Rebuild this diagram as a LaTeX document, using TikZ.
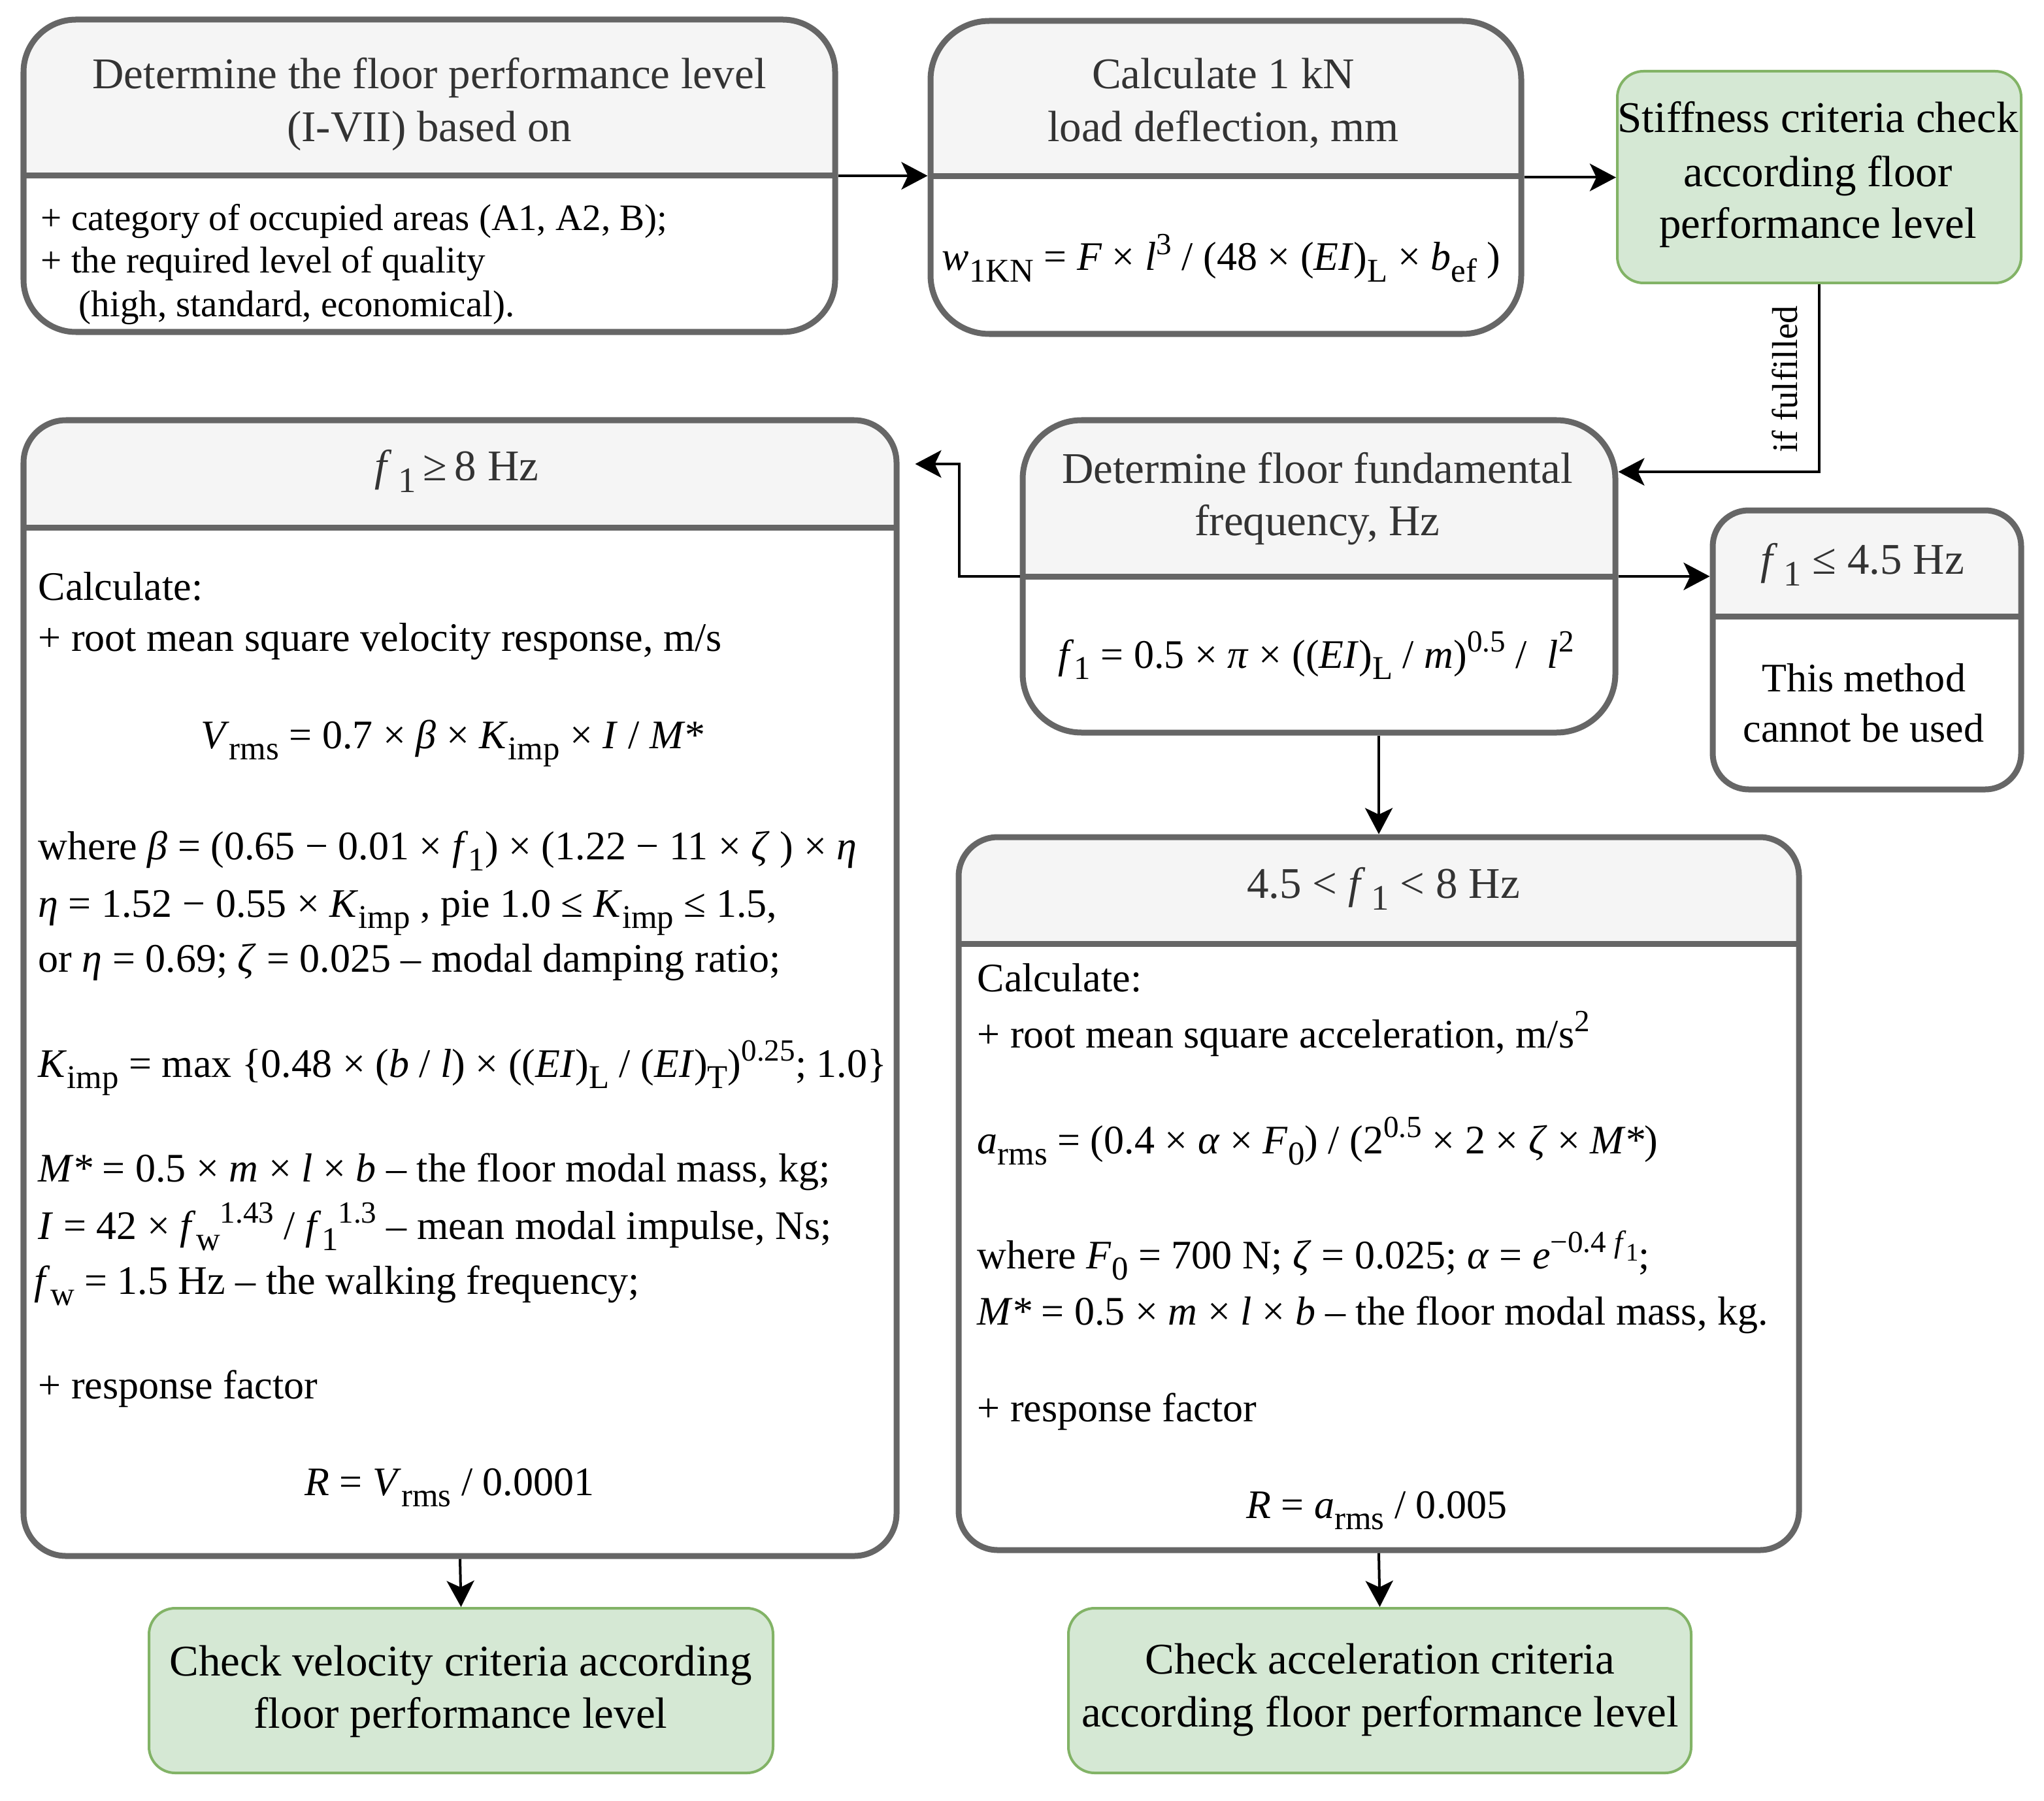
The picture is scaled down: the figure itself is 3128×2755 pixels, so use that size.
\documentclass[tikz,border=0pt]{standalone}
\usepackage{fontspec}
\setmainfont{Liberation Serif}
\usepackage{graphicx}
\usetikzlibrary{arrows.meta,calc}
\definecolor{bgray}{HTML}{666666}
\definecolor{hdrfill}{HTML}{F5F5F5}
\definecolor{htext}{HTML}{333333}
\definecolor{gfill}{HTML}{D5E8D4}
\definecolor{gline}{HTML}{82B366}
\newcommand\hdf{\fontsize{19.06pt}{23pt}\selectfont}
\newcommand\bdf{\fontsize{17.64pt}{21pt}\selectfont}
\newcommand\abf{\fontsize{16.22pt}{19pt}\selectfont}
\newcommand\lbf{\fontsize{15.65pt}{19pt}\selectfont}
\newcommand\im[1]{\textit{#1}}
\newcommand\lo[1]{\raisebox{-0.28em}{\scalebox{0.82}{#1}}}
\newcommand\hi[1]{\raisebox{0.40em}{\scalebox{0.76}{#1}}}
\tikzset{
 swimbox/.style={rectangle, fill=white, inner sep=0pt, outer sep=0.045cm},
 bord/.style={draw=bgray, line width=0.09cm},
 hdr/.style={fill=hdrfill},
 gbox/.style={rectangle, fill=gfill, draw=gline, line width=0.04cm, rounded corners=0.4cm, inner sep=0pt},
 ht/.style={inner sep=0pt, anchor=base, text=htext, font=\hdf},
 gt/.style={inner sep=0pt, anchor=base, text=black, font=\hdf},
 bt/.style={inner sep=0pt, anchor=base west, font=\bdf},
 bc/.style={inner sep=0pt, anchor=base, font=\bdf},
 abody/.style={inner sep=0pt, anchor=base west, font=\abf},
 arr/.style={draw=black, line width=0.04cm, -{Stealth[length=0.4cm,width=0.42cm,inset=0.1cm]}},
}
% name, x1, y1, x2, y2, ydiv, radius
\newcommand\swim[7]{%
 \node[swimbox, minimum width={(#4-#2)*0.01cm}, minimum height={(#5-#3)*0.01cm}] (#1) at ({(#2+#4)/2},{(#3+#5)/2}) {};
 \begin{scope}
  \clip[rounded corners=#7] (#2,#3) rectangle (#4,#5);
  \fill[hdr] (#2,#3) rectangle (#4,#6);
 \end{scope}
 \draw[bord] (#2,#6) -- (#4,#6);
 \draw[bord, rounded corners=#7] (#2,#3) rectangle (#4,#5);
}
\newcommand\gnode[5]{%
 \node[gbox, minimum width={(#4-#2)*0.01cm}, minimum height={(#5-#3)*0.01cm}] (#1) at ({(#2+#4)/2},{(#3+#5)/2}) {};
}
\begin{document}
\begin{tikzpicture}[x=0.01cm, y=-0.01cm]
\fill[white] (0,0) rectangle (3128,2755);
\useasboundingbox (0,0) rectangle (3128,2755);

% boxes
\swim{A}{36}{30}{1278}{508}{269}{0.8cm}
\swim{B}{1424}{32}{2328}{511}{270}{0.9cm}
\gnode{C}{2475}{109}{3093}{433}
\swim{D}{1565}{643}{2472}{1121}{882}{0.9cm}
\swim{E}{2621}{781}{3093}{1208}{943}{0.55cm}
\swim{F}{36}{643}{1372}{2381}{807}{0.65cm}
\swim{G}{1467}{1281}{2753}{2372}{1444}{0.6cm}
\gnode{H}{228}{2461}{1183}{2713}
\gnode{I}{1635}{2461}{2588}{2713}

% box A text
\node[ht] (a1) at (657,136) {Determine the floor performance level};
\node[ht] (a2) at (657,217) {(I-VII) based on};
\node[abody] (a3) at (62,353) {+ category of occupied areas (A1, A2, B);};
\node[abody] (a4) at (62,418) {+ the required level of quality};
\node[abody] (a5) at (120,485) {(high, standard, economical).};

% box B text
\node[ht] (b1) at (1872,136) {Calculate 1 kN};
\node[ht] (b2) at (1872,217) {load deflection, mm};
\node[bc] (b3) at (1869,414) {\im{w}\lo{1KN} = \im{F} × \im{l}\hi{3} / (48 × (\im{EI})\lo{L} × \im{b}\lo{ef} )};

% box C text
\node[gt] (c1) at (2782,203) {Stiffness criteria check};
\node[gt] (c2) at (2782,286) {according floor};
\node[gt] (c3) at (2782,365) {performance level};

% label
\node[inner sep=0pt, rotate=90, anchor=south, font=\lbf] (lab) at (2752,580) {if fulfilled};

% box D text
\node[ht] (d1) at (2016,739) {Determine floor fundamental};
\node[ht] (d2) at (2016,819) {frequency, Hz};
\node[bc] (d3) at (2014,1022) {\im{f}\lo{1} = 0.5 × \im{π} × ((\im{EI})\lo{L} / \im{m})\hi{0.5} /\ \ \im{l}\hi{2}};

% box E text
\node[ht] (e1) at (2850,878) {\im{f}\lo{\,1} ≤ 4.5 Hz};
\node[bc] (e2) at (2852,1058) {This method};
\node[bc] (e3) at (2852,1135) {cannot be used};

% box F text
\node[ht] (f0) at (699,735) {\im{f}\lo{\,1}\,≥\,8 Hz};
\node[bt] (f1) at (58,918) {Calculate:};
\node[bt] (f2) at (58,996) {+ root mean square velocity response, m/s};
\node[bc] (f3) at (692,1145) {\im{V}\lo{rms} = 0.7 × \im{β} × \im{K}\lo{imp} × \im{I} / \im{M*}};
\node[bt] (f4) at (58,1315) {where \im{β} = (0.65 − 0.01 ×\ \im{f}\lo{1}) × (1.22 − 11 × \im{ζ} ) × \im{η}};
\node[bt] (f5) at (58,1403) {\im{η} = 1.52 − 0.55 × \im{K}\lo{imp} , pie 1.0 ≤\ \im{K}\lo{imp} ≤ 1.5,};
\node[bt] (f6) at (58,1487) {or \im{η} = 0.69; \im{ζ} = 0.025 – modal damping ratio;};
\node[bt] (f7) at (58,1648) {\im{K}\lo{imp} = max \{0.48 × (\im{b} / \im{l}) × ((\im{EI})\lo{L} / (\im{EI})\lo{T})\hi{0.25}; 1.0\}};
\node[bt] (f8) at (58,1808) {\im{M*} = 0.5 × \im{m} × \im{l} × \im{b} – the floor modal mass, kg;};
\node[bt] (f9) at (58,1896) {\im{I} = 42 ×\ \im{f}\lo{w}\hi{1.43} / \im{f}\lo{1}\hi{1.3} – mean modal impulse, Ns;};
\node[bt] (f10) at (52,1980) {\im{f}\lo{w} = 1.5 Hz – the walking frequency;};
\node[bt] (f11) at (58,2140) {+ response factor};
\node[bc] (f12) at (688,2288) {\im{R} = \im{V}\lo{rms} / 0.0001};

% box G text
\node[ht] (g0) at (2117,1374) {4.5 < \im{f}\lo{\,1} < 8 Hz};
\node[bt] (g1) at (1495,1517) {Calculate:};
\node[bt] (g2) at (1495,1603) {+ root mean square acceleration, m/s\hi{2}};
\node[bt] (g3) at (1495,1765) {\im{a}\lo{rms} = (0.4 × \im{α} × \im{F}\lo{0}) / (2\hi{0.5} × 2 × \im{ζ} × \im{M*})};
\node[bt] (g4) at (1495,1941) {where \im{F}\lo{0} = 700 N; \im{ζ} = 0.025; \im{α}\ = \im{e}\hi{−0.4 \im{f}\lo{1}};};
\node[bt] (g5) at (1495,2027) {\im{M*} = 0.5 × \im{m} × \im{l} × \im{b} – the floor modal mass, kg.};
\node[bt] (g6) at (1495,2175) {+ response factor};
\node[bc] (g7) at (2107,2323) {\im{R} = \im{a}\lo{rms} / 0.005};

% box H, I text
\node[gt] (h1) at (705,2564) {Check velocity criteria according};
\node[gt] (h2) at (705,2644) {floor performance level};
\node[gt] (i1) at (2112,2561) {Check acceleration criteria};
\node[gt] (i2) at (2112,2642) {according floor performance level};

% connectors
\draw[arr] (A.east) -- (A.east -| B.west);
\draw[arr] (B.east) -- (B.east -| C.west);
\coordinate (jC) at (2784,722);
\draw[arr] (C.south) -- (jC) -- (jC -| D.east);
\draw[arr] (D.east) -- (D.east -| E.west);
\coordinate (jF) at (1468,710);
\draw[arr, shorten >=0.24cm] (D.west) -| (jF) -- (jF -| F.east);
\draw[arr] (G.north |- D.south) -- (G.north);
\draw[arr] (F.south) -- (H.north);
\draw[arr] (G.south) -- (I.north);
\end{tikzpicture}
\end{document}
